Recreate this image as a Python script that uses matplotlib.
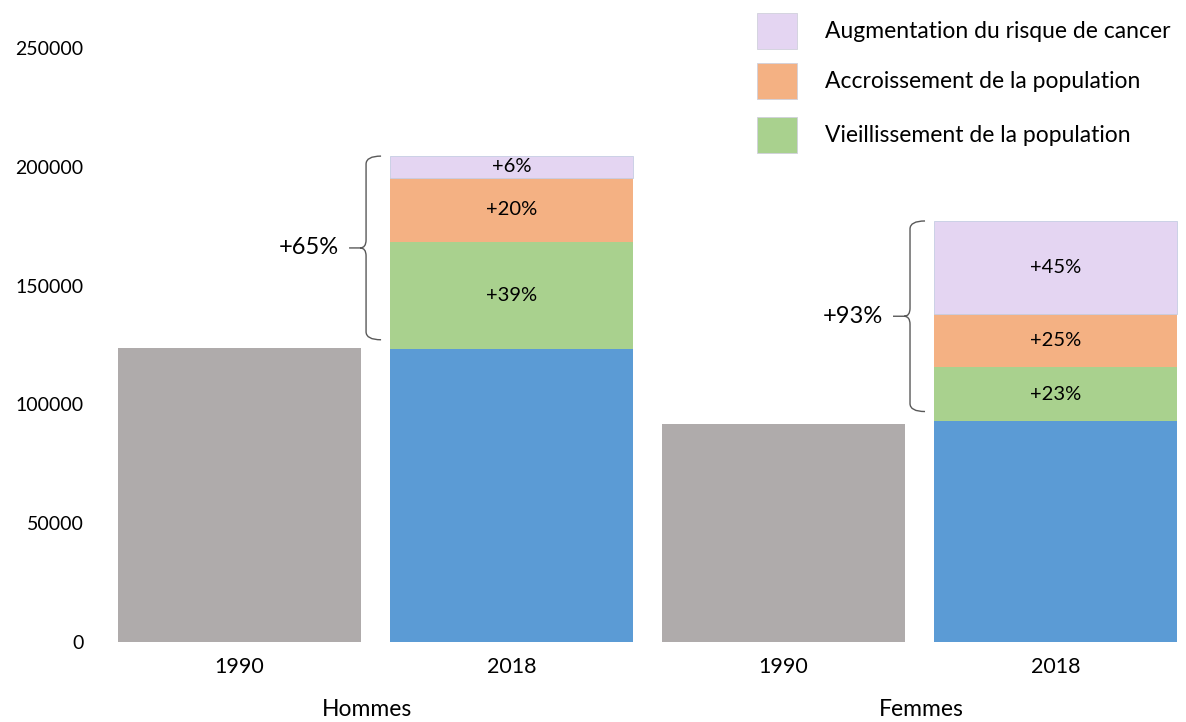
import matplotlib
matplotlib.use("Agg")
import matplotlib.pyplot as plt
from matplotlib.patches import Rectangle, PathPatch
from matplotlib.path import Path
from matplotlib.transforms import IdentityTransform

# Data
groups = ['Hommes', 'Femmes']
years = ['1990', '2018']
cases_1990 = [123700, 91600]
base_2018 = [123200, 93000]
vieillissement = [45300, 22600]
accroissement = [26900, 22400]
risque = [9100, 39200]
pct_vieillissement = ['+39%', '+23%']
pct_accroissement = ['+20%', '+25%']
pct_risque = ['+6%', '+45%']
pct_total = ['+65%', '+93%']
legend_labels = ['Augmentation du risque de cancer',
                 'Accroissement de la population',
                 'Vieillissement de la population']

GRAY = '#AFABAB'
BLUE = '#5B9BD5'
GREEN = '#A9D18E'
ORANGE = '#F4B183'
PURPLE = '#E4D5F2'

plt.rcParams['font.family'] = ['Lato', 'DejaVu Sans']

W, H = 1186, 722
fig = plt.figure(figsize=(W / 100, H / 100), dpi=100)
ax = fig.add_axes([100 / W, 80 / H, (W - 100) / W, 642 / H])

width = 0.893
x_1990 = [0, 2]
x_2018 = [1, 3]

ax.bar(x_1990, cases_1990, width=width, color=GRAY)
ax.bar(x_2018, base_2018, width=width, color=BLUE)
bottom = list(base_2018)
segments = [(vieillissement, GREEN, pct_vieillissement, 'none'),
            (accroissement, ORANGE, pct_accroissement, 'none'),
            (risque, PURPLE, pct_risque, '#C5CDE3')]
for values, color, labels, edge in segments:
    ax.bar(x_2018, values, width=width, bottom=bottom, color=color,
           edgecolor=edge, linewidth=0.6)
    for x, v, b, lab in zip(x_2018, values, bottom, labels):
        ax.text(x, b + v / 2, lab, ha='center', va='center', fontsize=14.5)
    bottom = [b + v for b, v in zip(bottom, values)]

ax.set_xlim(-0.513, 3.48)
ax.set_ylim(0, 270200)
ax.set_yticks(range(0, 250001, 50000))
ax.set_yticklabels([str(v) for v in range(0, 250001, 50000)])
ax.set_xticks([0, 1, 2, 3])
ax.set_xticklabels(years * 2)
ax.tick_params(axis='both', length=0)
ax.tick_params(axis='y', pad=12, labelsize=14)
ax.tick_params(axis='x', pad=11, labelsize=15.5)
for s in ax.spines.values():
    s.set_visible(False)

for gx, g in zip([0.47, 2.505], groups):
    ax.text(gx, -0.121, g, transform=ax.get_xaxis_transform(),
            ha='center', va='bottom', fontsize=16.5)

# curly braces with total increase
fig.canvas.draw()
for i, x in enumerate(x_2018):
    y_bot = base_2018[i] + 4000
    y_top = bottom[i]
    xp, yb = ax.transData.transform((x - width / 2, y_bot))
    _, yt = ax.transData.transform((x - width / 2, y_top))
    xl = xp - 24
    hook = xp - 9
    tip = xp - 41
    ym = (yb + yt) / 2
    r = 8
    verts = [(hook, yt), (xl, yt), (xl, yt - r),
             (xl, ym + r), (xl, ym), (xl - 6, ym),
             (tip, ym),
             (xl - 6, ym), (xl, ym), (xl, ym - r),
             (xl, yb + r), (xl, yb), (hook, yb)]
    codes = [Path.MOVETO, Path.CURVE3, Path.CURVE3,
             Path.LINETO, Path.CURVE3, Path.CURVE3,
             Path.LINETO,
             Path.MOVETO, Path.CURVE3, Path.CURVE3,
             Path.LINETO, Path.CURVE3, Path.CURVE3]
    fig.add_artist(PathPatch(Path(verts, codes), facecolor='none',
                             edgecolor='#595959', linewidth=1.0,
                             transform=IdentityTransform()))
    fig.text((tip - 10) / W, ym / H, pct_total[i],
             ha='right', va='center', fontsize=17)

# legend drawn by hand
for k, (lab, col) in enumerate(zip(legend_labels, [PURPLE, ORANGE, GREEN])):
    top = [13, 63, 117][k]
    fig.add_artist(Rectangle((757 / W, 1 - (top + 36) / H), 40 / W, 36 / H,
                             facecolor=col, edgecolor='#D0D0DC', linewidth=0.6,
                             transform=fig.transFigure))
    fig.text(825 / W, 1 - (top + 18) / H, lab, ha='left', va='center',
             fontsize=16.5)

fig.savefig('out.png', dpi=100)
